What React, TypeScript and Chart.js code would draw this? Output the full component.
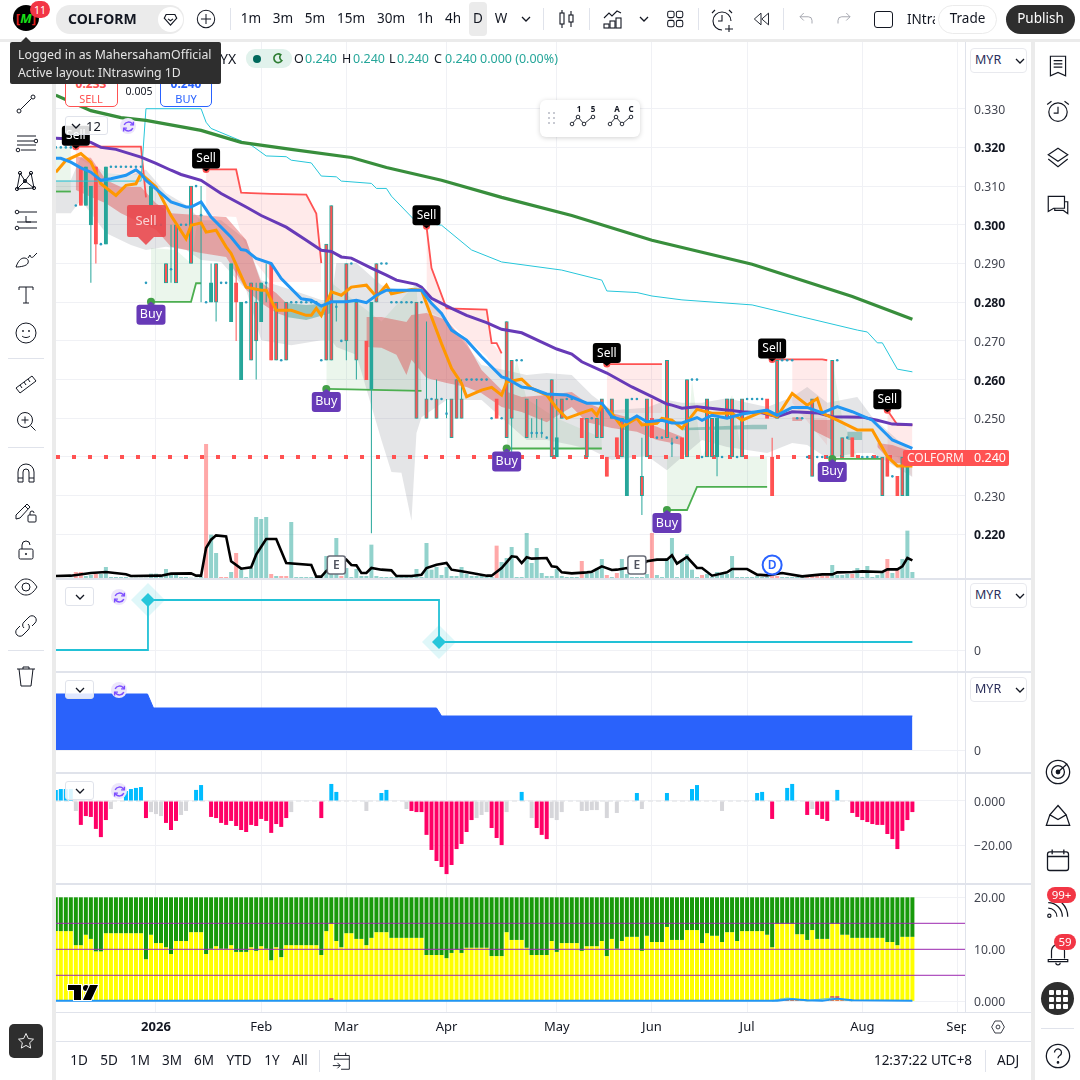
import React, { useEffect, useRef } from "react";
import { Chart, registerables } from "chart.js";
Chart.register(...registerables);

const FONT = '"Noto Sans", sans-serif';
const GRID = "#f0f1f5";
const TEAL = "#26a69a";
const RED = "#ff5252";

// ---- time axis
const monthTickBars = [20, 41, 58, 78, 100, 119, 138, 161, 180];
const monthTickLabels = ["2026", "Feb", "Mar", "Apr", "May", "Jun", "Jul", "Aug", "Sep"];

// ---- candles (MYR)
const bodyTop = [
  .32,.32,.32,.32,.305,.315,.315,.31,.315,.295,
  .315,.315,.315,.315,.315,.315,.315,.315,.285,.31,
  .3,.3,.29,.2885,.3,.3,.3,.31,.31,.3025,
  .28,.285,.29,.285,.285,.29,.285,.28,.28,.285,
  .28,.285,.285,.29,.28,.265,.28,.28,.28,.28,
  .28,.28,.28,.265,.295,.305,.2788,.27,.29,.29,
  .28,null,.27,.28,.29,.29,.29,.28,.28,.28,
  .28,.28,.28,.28,.255,.255,.255,.255,.2512,.255,
  .26,.255,.26,.26,.26,.26,.26,.25,.255,.25,
  .275,.265,.265,.265,.255,.2462,.2462,.2462,.245,.26,
  .245,.255,.255,.255,null,.25,.25,.25,.25,.255,
  .24,.255,.245,.25,.255,.255,.255,.235,.255,.25,
  .245,.245,.265,.2435,.245,.245,.26,.26,.26,.24,
  .255,.25,.25,.24,.255,.255,.24,.255,.255,.255,
  .255,.255,.255,.24,.265,.265,.265,.265,.25,.25,
  .24,.255,.24,.24,.24,.265,.265,.245,.245,.245,
  null,.24,.24,.24,.24,.24,.24,.235,.235,.24,.24,.24,
];
const bodyBottom = [
  .32,.32,.32,.32,.305,.305,.305,.3,.295,.295,
  .295,.315,.315,.315,.315,.315,.315,.315,.285,.305,
  .3,.3,.285,.2885,.285,.3,.3,.29,.31,.3025,
  .28,.28,.28,.285,.285,.275,.28,.26,.28,.265,
  .27,.275,.285,.265,.265,.265,.265,.28,.28,.28,
  .28,.28,.28,.265,.265,.265,.2788,.27,.27,.29,
  .265,null,.26,.2575,.28,.29,.29,.28,.28,.28,
  .28,.28,.25,.28,.25,.255,.25,.255,.2512,.245,
  .25,.25,.26,.26,.26,.26,.26,.25,.25,.25,
  .245,.25,.265,.265,.245,.2462,.2462,.2462,.245,.24,
  .24,.25,.255,.255,null,.245,.24,.25,.245,.245,
  .235,.25,.24,.24,.23,.255,.255,.23,.24,.245,
  .245,.245,.245,.2435,.245,.24,.24,.26,.26,.24,
  .24,.24,.24,.24,.25,.24,.24,.24,.255,.255,
  .255,.255,.25,.23,.25,.265,.265,.265,.25,.25,
  .24,.235,.24,.24,.24,.24,.265,.24,.245,.24,
  null,.24,.24,.24,.24,.23,.235,.235,.23,.23,.23,.24,
];
const wickHighBars = [23,29,31,36,40,42,56,74,76,78,81,95,96,97,100,117,119,123,143];
const wickHighVals = [.3,.31,.29,.29,.285,.29,.28,.275,.26,.255,.26,.25,.255,.25,.255,.245,.255,.245,.245];
const wickLowBars = [7,8,23,29,31,32,36,40,42,56,58,60,63,78,91,95,96,97,117,123,132];
const wickLowVals = [.285,.29,.285,.28,.28,.275,.27,.26,.28,.275,.265,.26,.2203,.25,.24,.245,.245,.245,.225,.24,.235];
const redBodies = [5,8,36,43,62,88,105,110,112,119,125,142,143,159,166,168];
const mixedBodies = [22,24,27,32,39,40,44,46,54,55,58,60,64,72,74,76,79,80,81,90,91,94,99,101,106,108,109,111,113,117,118,122,126,130,131,134,135,137,144,151,155,157,165,169];

// ---- volume
const volumes = [
  0,0,0,1,18,18,6,9,12,12,
  33,3,3,3,3,1,1,1,1,13,
  13,5,27,12,10,3,3,1,1,3,
  402,130,75,3,3,18,75,25,3,30,
  183,177,183,12,6,6,6,168,3,3,
  3,3,3,3,66,18,120,6,30,3,
  27,6,6,100,6,3,3,3,3,3,
  3,3,27,3,105,25,33,9,33,6,
  6,33,12,6,6,6,3,3,97,48,
  60,93,3,3,135,45,90,15,6,6,
  27,6,3,3,3,51,12,15,30,57,
  9,3,15,57,12,3,3,3,12,135,
  9,3,60,120,3,55,72,25,3,9,
  12,3,18,12,12,66,3,3,3,3,
  6,3,3,6,6,3,3,3,3,3,
  3,6,6,6,6,39,9,9,12,12,
  30,3,36,3,9,15,57,15,24,57,142,18,
];
const volumeRedBars = [4,5,8,30,33,34,36,43,45,46,57,88,105,110,112,119,129,143,144,150,151,152,153,154,159,166,168];
const volMaBars = [0,3,7,10,14,15,21,23,27,28,29,30,31,32,34,35,37,39,40,42,44,46,51,52,53,54,58,59,60,61,62,63,65,67,68,71,73,74,76,78,79,81,83,86,87,89,91,92,93,94,95,98,99,100,101,103,106,107,109,111,112,114,115,118,120,122,123,124,126,128,129,131,134,135,138,140,142,145,149,153,155,156,159,161,165,166,168,169,170,171];
const volMaVals = [6,7,15,18,11,6,7,13,14,7,7,90,115,128,125,50,28,32,70,117,117,45,39,4,4,21,55,39,38,15,15,30,25,23,6,6,10,30,40,45,25,20,15,7,7,30,65,63,45,62,58,60,35,33,17,14,17,19,35,24,25,30,20,50,55,55,68,43,63,30,30,7,17,27,27,10,8,15,5,11,11,17,18,20,18,26,26,35,60,53];

// ---- moving averages
const purpleBars = [0,4,7,9,12,17,20,23,25,29,33,38,41,46,50,53,55,57,59,63,66,68,72,73,75,79,82,86,89,93,97,100,103,105,110,115,119,122,123,125,128,132,137,141,144,147,152,155,161,164,167,171];
const purpleVals = [.3224,.3221,.3213,.32,.3195,.3175,.3159,.3141,.313,.3115,.3081,.3046,.3024,.2994,.296,.2934,.2931,.2917,.2914,.2888,.287,.2857,.2846,.2839,.281,.2784,.2766,.2747,.273,.2721,.2697,.2679,.2666,.2646,.2617,.2581,.2556,.2537,.2534,.2526,.253,.2524,.2517,.2514,.2504,.2517,.2514,.2504,.2503,.2495,.2485,.2483];
const blueBars = [0,1,3,5,7,9,11,14,16,17,18,20,23,26,27,29,31,35,37,38,40,43,45,49,51,53,55,58,60,62,64,66,69,73,75,77,79,82,85,89,90,93,95,98,102,106,109,111,114,116,118,121,123,125,128,129,131,134,137,142,144,147,150,153,156,159,163,167,171];
const blueVals = [.3172,.3172,.3162,.3147,.3136,.3115,.3119,.3128,.3142,.3132,.3115,.3093,.3059,.3046,.3046,.3059,.302,.2968,.2936,.2934,.2913,.29,.2861,.2809,.2805,.279,.2801,.2801,.2805,.2799,.2818,.2831,.2831,.2831,.2797,.2771,.2728,.2702,.2659,.2607,.2603,.2581,.2577,.2563,.256,.2539,.2539,.2504,.2491,.2506,.2491,.2495,.2488,.2488,.2502,.2495,.2508,.25,.2511,.2521,.2508,.2528,.2528,.2514,.253,.2517,.2495,.2444,.2422];
const orangeBars = [0,2,5,7,9,12,14,16,17,20,23,26,27,29,30,32,34,35,38,41,42,44,47,50,51,52,53,55,57,59,62,64,66,67,71,73,75,77,79,81,82,85,87,89,90,93,95,98,100,102,105,107,108,109,111,113,116,117,120,121,123,125,128,131,135,137,141,144,147,150,152,153,156,160,163,166,168,171];
const orangeVals = [.3136,.3166,.3184,.3162,.3106,.3076,.3102,.3106,.3132,.3098,.3024,.2964,.2999,.3005,.2981,.2986,.2943,.2926,.2839,.2831,.2831,.2779,.2779,.2766,.2766,.2784,.2766,.2827,.2818,.2839,.2844,.2814,.2844,.2822,.2833,.2831,.2762,.2693,.2629,.259,.2556,.2573,.258,.256,.2594,.2601,.2577,.256,.2526,.25,.2514,.2523,.2508,.2534,.2513,.2478,.25,.2483,.2487,.25,.2495,.2474,.2523,.2513,.2513,.2495,.2517,.2504,.2564,.2534,.2551,.2513,.2495,.247,.247,.2401,.2377,.2377];
const greenMaBars = [0,7,13,18,29,37,47,59,66,77,89,103,119,139,159,171];
const greenMaVals = [.3335,.3295,.3277,.327,.3244,.3213,.3195,.3174,.3148,.3115,.3071,.3024,.296,.2898,.2815,.2756];
const cyanBars = [0,17,18,29,30,31,39,42,46,47,51,53,56,57,63,64,66,67,72,77,83,89,101,109,110,116,119,125,139,149,160,162,164,165,168,171];
const cyanVals = [.3113,.3113,.33,.33,.3265,.3249,.3206,.3178,.3176,.3167,.316,.3126,.3124,.3113,.3107,.3094,.3094,.3074,.3007,.2999,.2935,.2904,.2883,.2857,.2829,.2825,.2816,.2806,.2793,.2762,.2728,.2723,.2695,.2695,.2627,.262];

// ---- resistance segments + pale fill
const resA = { bars: [4,17,18], vals: [.3202,.3202,.3071] };
const resB = { bars: [30,36,37,39,43,50,52,53], vals: [.3143,.3143,.3083,.3082,.308,.3078,.3029,.2901] };
const resC = { bars: [74,75,78,86,87,88,89], vals: [.2996,.2888,.2784,.2781,.2694,.2694,.2668] };
const resD = { bars: [110,121], vals: [.264,.264] };
const resE = { bars: [143,153,154], vals: [.2652,.2652,.265] };
const resF = { bars: [166,168,171], vals: [.2521,.2483,.2483] };
const pinkBands = [
  { bars: [4,10,17], top: [.3202,.3202,.3202], bot: [.3175,.3134,.3129] },
  { bars: [30,36,37,39,43,50,52,53], top: [.3143,.3143,.3083,.3082,.308,.3078,.3029,.2901], bot: [.3025,.302,.2975,.2917,.2852,.2852,.2852,.2852] },
  { bars: [74,75,78,86,87,89], top: [.2996,.2888,.2784,.2781,.2694,.2668], bot: [.2772,.2772,.2754,.266,.264,.2612] },
  { bars: [110,121], top: [.264,.264], bot: [.2514,.2514] },
  { bars: [147,154], top: [.2652,.265], bot: [.254,.243] },
  { bars: [166,168,171], top: [.2521,.2483,.2483], bot: [.241,.24,.2348] },
];

// ---- support segments + pale fill
const supports = [
  { bars: [0,3], vals: [.3086,.3086] },
  { bars: [19,27,28,29], vals: [.2801,.2801,.2849,.2849] },
  { bars: [54,73], vals: [.2576,.2571] },
  { bars: [90,109], vals: [.2422,.2422] },
  { bars: [122,126,128,142], vals: [.2263,.2263,.2323,.2323] },
  { bars: [155,165], vals: [.2395,.2395] },
];
const greenBands = [
  { bars: [0,3], top: [.32,.32], bot: [.3086,.3086] },
  { bars: [19,24,27,28,29], top: [.294,.2935,.29,.2987,.3051], bot: [.2801,.2801,.2801,.2849,.2849] },
  { bars: [54,55,65,72,73], top: [.27,.285,.275,.285,.2571], bot: [.2576,.2576,.2574,.2571,.2571] },
  { bars: [90,92,94,100,109], top: [.253,.265,.255,.25,.245], bot: [.2422,.2422,.2422,.2422,.2422] },
  { bars: [122,126,127,128,129,135,137,142], top: [.24,.24,.26,.25,.24,.256,.24,.24], bot: [.2263,.2263,.2293,.2323,.2323,.2323,.2323,.2323] },
  { bars: [155,157,160,165], top: [.265,.25,.24,.24], bot: [.2395,.2395,.2395,.2395] },
];

// ---- clouds
const grayBars = [0,3,5,10,15,18,22,26,29,33,38,41,47,53,55,56,60,65,67,69,71,72,73,78,85,94,98,103,107,111,118,122,125,129,134,142,147,150,154,160,163,171];
const grayTop = [.3116,.3116,.3175,.3134,.3129,.3142,.3082,.3051,.3012,.3012,.2961,.2857,.2832,.2806,.2806,.2901,.2901,.2844,.2837,.2832,.2832,.2844,.2832,.2754,.2638,.2612,.2617,.2612,.256,.2521,.2527,.2547,.254,.254,.2552,.2529,.2555,.2581,.254,.2555,.2503,.241];
const grayBottom = [.303,.303,.3064,.2979,.2948,.2935,.2943,.2935,.2909,.2904,.2832,.2702,.2689,.2702,.2702,.2684,.2664,.2444,.2361,.2359,.2235,.2462,.2503,.2547,.2547,.2444,.2444,.2431,.2418,.2392,.2403,.2366,.24,.2444,.2426,.241,.2436,.2431,.2397,.241,.241,.2348];
const redCloudBands = [
  { bars: [4,7,10,13,17,20,23,29,34,38,41,44,46], top: [.3175,.3173,.3116,.3098,.3098,.3056,.303,.3025,.302,.2961,.285,.2824,.2798], bot: [.309,.3072,.3056,.303,.3005,.2987,.2943,.2927,.2917,.2832,.2798,.2772,.2764] },
  { bars: [62,65,68,70,71,74,78,82,85,89,93,98,103,106,111,116,120,125], top: [.2762,.2762,.2754,.2749,.2767,.2772,.2754,.2695,.2625,.2573,.2555,.256,.2568,.254,.2514,.2496,.2478,.2452], bot: [.2684,.2682,.2664,.2612,.2651,.2604,.2591,.2581,.2565,.2529,.2516,.249,.2529,.249,.2475,.2465,.2444,.2431] },
  { bars: [147,149], top: [.2503,.2503], bot: [.2493,.2493] },
  { bars: [151,155], top: [.2496,.2496], bot: [.247,.2444] },
  { bars: [164,167,171], top: [.2436,.2431,.2413], bot: [.2426,.2384,.2384] },
];
const tealCloudBands = [
  { bars: [46,50,55], top: [.2798,.2793,.2798], bot: [.2762,.2754,.2772] },
  { bars: [125,139,142], top: [.2475,.2483,.2483], bot: [.2469,.2472,.2472] },
  { bars: [158,161], top: [.2465,.2465], bot: [.2444,.2444] },
];

// ---- signals
const lastPrice = 0.24;
const sellBars = [4,30,74,110,143,166];
const sellPrices = [.3202,.3143,.2996,.264,.2652,.2521];
const buyBars = [19,54,90,122,155];
const buyPrices = [.2801,.2576,.2422,.2263,.2395];
const bigSellBar = 18;
const bigSellPrice = .2948;
const eventBars = [56,116,143];
const eventLabels = ["E","E","D"];

// ---- pane 2: step line
const stepBars = [0,18.4,76.5,171];
const stepVals = [0,50,8,8];
// ---- pane 3: blue area
const areaBars = [0,18.3,19.5,76,77,171];
const areaVals = [56,56,42,42,34,34];
// ---- pane 4: histogram
const histogram = [
  5,5.4,5.4,5.4,-4.5,-10.8,-6.8,-7.2,-12.6,-16.3,
  -8.6,-3.6,0,0,4.5,5.4,5.9,6.3,-7.7,-5,
  -5.9,-6.8,-9.9,-13.1,-9,-6.3,-4.5,0,5,7.2,
  0,-7.2,-7.7,-9.9,-10.8,-9,-11.3,-13.1,-14,-10.8,
  -11.3,-8.1,-9,-14.4,-10.4,-11.7,-7.7,-5,0,0,
  0,0,0,-7.7,0,7.7,4.1,0,0,0,
  0,0,-4.5,0,0,3.6,5,0,0,0,
  -3.6,-4.5,-5,-5,-15.3,-22.1,-27.1,-29.8,-33,-28.9,
  -21.7,-19.4,-14,-8.6,-7.7,-6.3,-5,-12.2,-16.7,-19.9,
  -5,0,0,4.1,0,-7.7,-12.2,-15.3,-17.2,-7.7,
  -8.6,-5,0,0,0,-4.5,-4.5,-4.1,-4.1,0,
  -7.7,0,-5.4,0,0,0,3.6,-3.6,0,0,
  0,0,3.6,0,0,0,0,5.4,7.2,0,
  0,0,0,-4.5,0,0,0,0,0,0,
  3.6,4.1,0,-8.1,0,0,5.9,7.7,0,0,
  -6.3,-3.6,-6.3,-8.1,-9,0,5,0,0,-5.4,
  -7.2,-8.6,-9.5,-10.4,-10.8,-10.8,-14.9,-17.2,-21.7,-13.5,-8.6,-5,
];
const histogramGrayBars = [4,11,19,20,21,25,26,47,62,70,84,85,86,90,95,99,100,101,105,106,107,108,110,112,117,133,151];
// ---- pane 5: stacked columns
const yellowVals = [
  13.5,13.5,13.5,13.5,10.8,10.8,12.8,12,9.6,9.6,
  13.1,13.1,13.1,13.1,13.1,13.1,13.1,13.1,8.1,12.8,
  11.2,11.2,10.4,9.1,11.6,11.6,11.6,13.3,13.3,13.3,
  9.1,10.1,10.6,10.1,10.1,10.8,9.5,9.5,9.5,10.4,
  9.7,10.6,10.1,7.9,10.4,8.5,10.8,10.8,10.8,10.8,
  10.8,10.8,10.8,8.9,13.5,14.9,11.6,10.4,13.1,13.1,
  12,12,10.8,12.2,13.3,13.3,13.3,12.2,12.2,12.2,
  12.2,12.2,12.2,12.2,8.9,8.9,8.9,8.9,8.3,9.3,
  9.9,9.3,10.3,10.3,10.3,10.3,10.3,8.7,8.7,8.7,
  13.3,11.8,11.8,11.8,10.3,8.9,8.9,8.9,8.9,11.6,
  9.5,11.2,11.2,11.2,11.2,9.7,10.6,10.6,10.6,11.6,
  8.7,12,10.1,11.6,12.4,12.4,12.4,9.7,12.6,11.4,
  11.4,11.4,14.3,11.8,11.8,11.8,13.7,13.7,13.7,11.2,
  13.1,12.6,12.6,11.4,13.3,13.3,11.6,13.5,13.5,13.5,
  13.5,13.5,12.8,10.4,14.9,14.9,14.9,14.9,12.9,12.9,
  11.8,13.7,12,12,12,14.9,14.9,12.8,12.8,12.2,
  12.2,12.2,12.2,12.2,12.2,12.2,11.4,11.4,10.8,12.4,12.4,12.4,
];
const greenCap = 20;
const stackLevels = [15, 10, 5];
const smallRedBars = [55,145,146,147,148,149,150,151,152,153,154,155,156,157,158,159,160,161,162,163,164,165,171];
const smallRedVals = [.6,.5,.5,.4,.3,.3,.2,.2,.2,.2,.2,1,1,.3,.2,.3,.2,.2,.2,.2,.2,.2,.1];
const blueFlatBars = [0,144,147,150,153,156,159,171];
const blueFlatVals = [.1,.1,.4,.2,.1,.5,.2,.1];
const tealBumpBars = [143,146,150,155,159];
const tealBumpVals = [.1,.6,.1,.6,.1];

// ---- axes ticks
const priceTicks = [.33,.32,.31,.3,.29,.28,.27,.26,.25,.24,.23,.22];
const boldPriceTicks = [.32,.3,.28,.26,.22];

const X_MIN = 0.04;
const X_MAX = 181.7;
const CANVAS_W = 976;
const barList = bodyTop.map((_, i) => i);

const pts = (bars: number[], vals: number[]) => bars.map((x, k) => ({ x, y: vals[k] }));
const lineDs = (bars: number[], vals: number[], color: string, width: number, extra: any = {}) => ({
  type: "line", data: pts(bars, vals), borderColor: color, borderWidth: width, pointRadius: 0, tension: 0, fill: false, spanGaps: false, ...extra,
});
const bandDs = (bars: number[], top: number[], bot: number[], color: string) => [
  { type: "line", data: pts(bars, top), borderWidth: 0, pointRadius: 0, tension: 0, backgroundColor: color, fill: "+1" },
  { type: "line", data: pts(bars, bot), borderWidth: 0, pointRadius: 0, tension: 0, fill: false },
];
const ordered = (list: any[]) => list.map((d, k) => ({ ...d, order: list.length - k }));

const xAxis = (labels = false) => ({
  type: "linear", min: X_MIN, max: X_MAX, offset: false,
  afterBuildTicks: (a: any) => { a.ticks = monthTickBars.map((value) => ({ value })); },
  afterFit: (s: any) => { s.height = labels ? 29 : 0; s.paddingLeft = 0; s.paddingRight = 0; },
  grid: { color: GRID, drawTicks: false, offset: false },
  border: { display: false },
  ticks: {
    display: labels, autoSkip: false, maxRotation: 0, minRotation: 0, padding: 7, color: "#131722",
    callback: (v: number) => monthTickLabels[monthTickBars.indexOf(v)] ?? "",
    font: (c: any) => ({ family: FONT, size: 13, weight: c.tick && c.tick.value === 20 ? "700" : "400" }),
  },
});
const yAxis = (min: number, max: number, ticks: number[], format: (v: number) => string, boldTicks: number[] = []) => ({
  position: "right", min, max,
  afterBuildTicks: (a: any) => { a.ticks = ticks.map((value) => ({ value })); },
  afterFit: (s: any) => { s.width = 66; s.paddingTop = 0; s.paddingBottom = 0; },
  grid: { color: GRID, drawTicks: false },
  border: { display: false },
  ticks: {
    padding: 8, labelOffset: 1.5, autoSkip: false, callback: (v: number) => format(v),
    color: (c: any) => (c.tick && boldTicks.includes(c.tick.value) ? "#131722" : "#434651"),
    font: (c: any) => ({ family: FONT, size: 12.2, weight: c.tick && boldTicks.includes(c.tick.value) ? "700" : "400" }),
  },
});
const baseOptions = (scales: any) => ({
  responsive: false, animation: false, events: [], maintainAspectRatio: false,
  layout: { padding: 0, autoPadding: false },
  plugins: { legend: { display: false }, tooltip: { enabled: false } },
  scales,
});

const roundRect = (ctx: any, x: number, y: number, w: number, h: number, r: number) => {
  ctx.beginPath();
  ctx.roundRect(x, y, w, h, r);
};

const signalPlugin = {
  id: "signals",
  afterDatasetsDraw(chart: any) {
    const { ctx, scales } = chart;
    const X = scales.x, Y = scales.y, V = scales.yv;
    ctx.save();
    ctx.textAlign = "center";
    ctx.textBaseline = "middle";
    {
      const px = X.getPixelForValue(bigSellBar), py = Y.getPixelForValue(bigSellPrice);
      ctx.fillStyle = "rgba(235,70,75,0.88)";
      roundRect(ctx, px - 19, py - 40, 39, 32, 2);
      ctx.fill();
      ctx.beginPath();
      ctx.moveTo(px - 8, py - 8); ctx.lineTo(px, py); ctx.lineTo(px + 8, py - 8); ctx.fill();
      ctx.fillStyle = "rgba(255,255,255,0.75)";
      ctx.font = `13px ${FONT}`;
      ctx.fillText("Sell", px, py - 24);
    }
    sellBars.forEach((b, k) => {
      const px = X.getPixelForValue(b), py = Y.getPixelForValue(sellPrices[k]);
      ctx.fillStyle = RED;
      ctx.beginPath(); ctx.arc(px, py, 3.5, 0, Math.PI * 2); ctx.fill();
      ctx.fillStyle = "#000";
      roundRect(ctx, px - 14, py - 21, 28, 20, 3); ctx.fill();
      ctx.beginPath(); ctx.moveTo(px - 4, py - 1); ctx.lineTo(px, py + 2); ctx.lineTo(px + 4, py - 1); ctx.fill();
      ctx.fillStyle = "#fff";
      ctx.font = `12px ${FONT}`;
      ctx.fillText("Sell", px, py - 11);
    });
    buyBars.forEach((b, k) => {
      const px = X.getPixelForValue(b), py = Y.getPixelForValue(buyPrices[k]);
      ctx.fillStyle = "#43a047";
      ctx.beginPath(); ctx.arc(px, py, 4, 0, Math.PI * 2); ctx.fill();
      ctx.fillStyle = "#673ab7";
      roundRect(ctx, px - 14.5, py + 3, 29, 20, 3); ctx.fill();
      ctx.beginPath(); ctx.moveTo(px - 4, py + 3); ctx.lineTo(px, py); ctx.lineTo(px + 4, py + 3); ctx.fill();
      ctx.fillStyle = "#fff";
      ctx.font = `12.5px ${FONT}`;
      ctx.fillText("Buy", px, py + 13);
    });
    eventBars.forEach((b, k) => {
      const px = X.getPixelForValue(b), py = V.getPixelForValue(39);
      if (eventLabels[k] === "D") {
        ctx.fillStyle = "#fff"; ctx.strokeStyle = "#2962ff"; ctx.lineWidth = 2;
        ctx.beginPath(); ctx.arc(px, py, 9.5, 0, Math.PI * 2); ctx.fill(); ctx.stroke();
        ctx.fillStyle = "#2962ff";
      } else {
        ctx.fillStyle = "#fff"; ctx.strokeStyle = "#6a6d78"; ctx.lineWidth = 1.5;
        roundRect(ctx, px - 9, py - 9, 18, 18, 2.5); ctx.fill(); ctx.stroke();
        ctx.fillStyle = "#50535e";
      }
      ctx.font = `600 12px ${FONT}`;
      ctx.fillText(eventLabels[k], px, py + 0.5);
    });
    ctx.restore();
  },
};

const mainConfig = () => {
  const wickHi = barList.map((i) => { const k = wickHighBars.indexOf(i); return k >= 0 ? wickHighVals[k] : bodyTop[i]; });
  const wickLo = barList.map((i) => { const k = wickLowBars.indexOf(i); return k >= 0 ? wickLowVals[k] : bodyBottom[i]; });
  const solid = barList.filter((i) => bodyTop[i] !== null && bodyTop[i] !== bodyBottom[i]);
  const thin = barList.filter((i) => bodyTop[i] !== null && wickHi[i] !== wickLo[i]);
  const dots = barList.filter((i) => bodyTop[i] !== null && bodyTop[i] === bodyBottom[i]);
  const datasets: any[] = [];
  pinkBands.forEach((b) => datasets.push(...bandDs(b.bars, b.top, b.bot, "rgba(255,82,82,0.12)")));
  greenBands.forEach((b) => datasets.push(...bandDs(b.bars, b.top, b.bot, "rgba(76,175,80,0.11)")));
  datasets.push(...bandDs(grayBars, grayTop, grayBottom, "rgba(120,123,134,0.2)"));
  redCloudBands.forEach((b) => datasets.push(...bandDs(b.bars, b.top, b.bot, "rgba(225,70,70,0.42)")));
  tealCloudBands.forEach((b) => datasets.push(...bandDs(b.bars, b.top, b.bot, "rgba(30,140,125,0.38)")));
  datasets.push({
    type: "bar", yAxisID: "yv", grouped: false, barThickness: 4, inflateAmount: 0, data: volumes.map((y, x) => ({ x, y })),
    backgroundColor: volumes.map((_, i) => (volumeRedBars.includes(i) ? "rgba(255,82,82,0.5)" : "rgba(38,166,154,0.5)")),
  });
  datasets.push(lineDs([X_MIN, 171], [lastPrice, lastPrice], RED, 4, { borderDash: [4, 12] }));
  [resA, resB, resC, resD, resE, resF].forEach((s) => datasets.push(lineDs(s.bars, s.vals, RED, 1.8)));
  supports.forEach((s) => datasets.push(lineDs(s.bars, s.vals, "#4caf50", 1.8)));
  datasets.push({
    type: "bar", grouped: false, barThickness: 1, data: thin.map((x) => ({ x, y: [wickLo[x], wickHi[x]] })),
    backgroundColor: thin.map((i) => (redBodies.includes(i) ? RED : TEAL)), inflateAmount: 0,
  });
  datasets.push({
    type: "bar", grouped: false, barThickness: 3.4, data: solid.map((x) => ({ x, y: [bodyBottom[x], bodyTop[x]] })),
    backgroundColor: solid.map((i) => (redBodies.includes(i) || mixedBodies.includes(i) ? RED : TEAL)),
    borderColor: solid.map((i) => (redBodies.includes(i) ? RED : TEAL)),
    borderWidth: 1, borderSkipped: false,
  });
  datasets.push({
    type: "scatter", data: dots.map((x) => ({ x, y: bodyTop[x] })), pointRadius: 1.3, pointBackgroundColor: "#2a9dbe", pointBorderWidth: 0,
  });
  datasets.push(lineDs(cyanBars, cyanVals, "#26c6da", 1));
  datasets.push(lineDs(greenMaBars, greenMaVals, "#388e3c", 3.2));
  datasets.push(lineDs(purpleBars, purpleVals, "#673ab7", 3));
  datasets.push(lineDs(orangeBars, orangeVals, "#ff9800", 3));
  datasets.push(lineDs(blueBars, blueVals, "#2196f3", 3));
  datasets.push(lineDs(volMaBars, volMaVals, "#000", 2.6, { yAxisID: "yv" }));
  return {
    type: "bar",
    data: { datasets: ordered(datasets) },
    options: baseOptions({
      x: xAxis(),
      y: yAxis(0.20873, 0.34724, priceTicks, (v) => v.toFixed(3), boldPriceTicks),
      yv: { display: false, min: 0, max: 1608 },
    }),
    plugins: [signalPlugin],
  };
};

const stepConfig = () => ({
  type: "line",
  data: {
    datasets: ordered([
      { type: "line", data: pts(stepBars, stepVals), stepped: "before", borderColor: "#22c1d6", borderWidth: 1.8, pointRadius: 0 },
      { type: "scatter", data: pts([stepBars[1], stepBars[2]], [stepVals[1], stepVals[2]]), pointStyle: "rectRot", pointRadius: 17, pointBackgroundColor: "rgba(38,198,218,0.15)", pointBorderWidth: 0 },
      { type: "scatter", data: pts([stepBars[1], stepBars[2]], [stepVals[1], stepVals[2]]), pointStyle: "rectRot", pointRadius: 7, pointBackgroundColor: "#26c6da", pointBorderWidth: 0 },
    ]),
  },
  options: baseOptions({ x: xAxis(), y: yAxis(-21, 71, [0], () => "0") }),
});

const areaConfig = () => ({
  type: "line",
  data: {
    datasets: [{ data: pts(areaBars, areaVals), borderColor: "#2a62fb", borderWidth: 1, backgroundColor: "#2a62fb", fill: { target: { value: 0 } }, pointRadius: 0, tension: 0 }],
  },
  options: baseOptions({ x: xAxis(), y: yAxis(-22, 78, [0], () => "0") }),
});

const histogramConfig = () => ({
  type: "bar",
  data: {
    datasets: ordered([
      { type: "line", data: pts([X_MIN, 171], [0, 0]), borderColor: "#e6e7ea", borderWidth: 1.5, borderDash: [5, 3], pointRadius: 0 },
      {
        type: "bar", grouped: false, barThickness: 4, inflateAmount: 0, data: histogram.map((y, x) => ({ x, y })),
        backgroundColor: histogram.map((v, i) => (v === 0 ? "rgba(0,0,0,0)" : histogramGrayBars.includes(i) ? "#d6d6da" : v > 0 ? "#00bcff" : "#ff0066")),
      },
    ]),
  },
  options: baseOptions({
    x: xAxis(),
    y: yAxis(-37.02, 12.64, [0, -20], (v) => (v === 0 ? "0.000" : "\u221220.00")),
  }),
});

const stackConfig = () => ({
  type: "bar",
  data: {
    datasets: ordered([
      { type: "bar", grouped: false, barThickness: 4, inflateAmount: 0, data: yellowVals.map((y, x) => ({ x, y })), backgroundColor: "#ffff00" },
      { type: "bar", grouped: false, barThickness: 4, inflateAmount: 0, data: yellowVals.map((y, x) => ({ x, y: [y, greenCap] })), backgroundColor: "#189a0a" },
      { type: "bar", grouped: false, barThickness: 4, inflateAmount: 0, data: pts(smallRedBars, smallRedVals), backgroundColor: "#e25b5b" },
      lineDs(tealBumpBars, tealBumpVals, "#7fc8b8", 1.5),
      lineDs(blueFlatBars, blueFlatVals, "#2196f3", 1.8),
      ...stackLevels.map((v) => lineDs([X_MIN, X_MAX], [v, v], "#9c27b0", 1)),
    ]),
  },
  options: baseOptions({
    x: xAxis(true),
    y: yAxis(-2.06, 22.56, [0, 10, 20], (v) => (v === 0 ? "0.000" : v.toFixed(2))),
  }),
});

function Pane({ top, height, config }: { top: number; height: number; config: () => any }) {
  const ref = useRef<HTMLCanvasElement>(null);
  useEffect(() => {
    const chart = new Chart(ref.current as any, config());
    return () => chart.destroy();
  }, []);
  return <canvas ref={ref} width={CANVAS_W} height={height} style={{ position: "absolute", left: 56, top, width: CANVAS_W, height }} />;
}

const Box = ({ l, t, w, h, c, r, style, children }: any) => (
  <div style={{ position: "absolute", left: l, top: t, width: w, height: h, background: c, borderRadius: r, ...style }}>{children}</div>
);
const Txt = ({ x, y, s = 14, c = "#131722", w = 400, center, children, style }: any) => (
  <div style={{
    position: "absolute", left: x, top: y, fontSize: s, color: c, fontWeight: w, lineHeight: 1, whiteSpace: "nowrap",
    transform: center ? "translate(-50%,-50%)" : "translateY(-50%)", ...style,
  }}>{children}</div>
);
const Icon = ({ x, y, size = 24, children, color = "#131722", sw = 1.1 }: any) => (
  <svg viewBox="0 0 24 24" width={size} height={size} fill="none" stroke={color} strokeWidth={sw}
    style={{ position: "absolute", left: x - size / 2, top: y - size / 2 }}>{children}</svg>
);

const Chevron = ({ x, y, c = "#131722" }: any) => (
  <svg width="10" height="6" viewBox="0 0 10 6" fill="none" stroke={c} strokeWidth="1.3" style={{ position: "absolute", left: x - 5, top: y - 3 }}>
    <path d="M1 1l4 4 4-4" />
  </svg>
);
const Refresh = ({ x, y }: any) => (
  <>
    <Box l={x - 8} t={y - 8} w={16} h={16} r={8} c="#ece6fb" />
    <Icon x={x} y={y} size={13} color="#7c4dff" sw={2.6}>
      <path d="M4 9a9 9 0 0 1 15-2l2 2M20 15a9 9 0 0 1-15 2l-2-2" />
      <path d="M21 3v6h-6M3 21v-6h6" />
    </Icon>
  </>
);
const PaneChevron = ({ t, wide, label }: any) => (
  <Box l={65} t={t} w={wide ? 43 : 29} h={19} r={3} style={{ background: "rgba(255,255,255,0.85)", border: "1px solid #e0e3eb", boxSizing: "border-box" }}>
    <Chevron x={wide ? 10 : 14} y={9} />
    {label ? <Txt x={20} y={9} s={13}>{label}</Txt> : null}
  </Box>
);
const Myr = ({ t }: any) => (
  <Box l={970} t={t} w={57} h={25} r={4} style={{ border: "1px solid #e8e9ee", boxSizing: "border-box", background: "#fff" }}>
    <Txt x={4} y={11} s={12.5} c="#2a2e5a">MYR</Txt>
    <Chevron x={49} y={12} />
  </Box>
);
const Sep = ({ x, y, h = 22 }: any) => <Box l={x} t={y} w={1} h={h} c="#e0e3eb" />;
const HSep = ({ x, y, w = 36 }: any) => <Box l={x} t={y} w={w} h={1} c="#e0e3eb" />;

const timeframes: [string, number][] = [["1m",251],["3m",283],["5m",315],["15m",351],["30m",391],["1h",425],["4h",453],["D",478],["W",501]];
const ranges: [string, number][] = [["1D",79],["5D",109],["1M",140],["3M",172],["6M",204],["YTD",239],["1Y",272],["All",300]];
const ohlc: [string, number, string, number][] = [["O",294,"0.240",305],["H",342,"0.240",353],["L",389,"0.240",397],["C",434,"0.240",445]];

function Chrome() {
  return (
    <>
      <Box l={0} t={39} w={1080} h={3} c="#ebebeb" />
      <Box l={52} t={39} w={4} h={1041} c="#ebebeb" />
      <Box l={1031} t={39} w={4} h={1041} c="#ebebeb" />
      <Box l={965} t={42} w={1} h={970} c="#e0e3eb" />
      {[578, 671, 772, 883].map((y) => <Box key={y} l={56} t={y} w={975} h={1.5} c="#e0e3eb" />)}
      <Box l={56} t={1012} w={975} h={1} c="#e0e3eb" />
      <Box l={966} t={1013} w={65} h={28} c="#fff" />
      <Box l={56} t={1041} w={975} h={1} c="#e0e3eb" />
      <Icon x={998} y={1027} size={18}><path d="M8 4h8l4.5 8-4.5 8H8l-4.5-8z" /><circle cx="12" cy="12" r="2.6" /></Icon>

      <Txt x={220} y={59} s={14} c="#131722">YX</Txt>
      <Box l={246} t={49} w={46} h={19} r={9} c="#e1f2ec" />
      <Box l={253} t={55} w={8} h={8} r={4} c="#00695c" />
      <Icon x={277} y={58} size={13} color="#2e7d32" sw={3}><path d="M18 5a8 8 0 1 0 2 11 7 7 0 0 1-2-11z" /></Icon>
      {ohlc.map(([a, ax, b, bx]) => (
        <React.Fragment key={a}>
          <Txt x={ax} y={59} s={12.5}>{a}</Txt>
          <Txt x={bx} y={59} s={12.5} c={TEAL}>{b}</Txt>
        </React.Fragment>
      ))}
      <Txt x={480} y={59} s={12.5} c={TEAL}>0.000 (0.00%)</Txt>

      <Box l={65} t={70} w={53} h={37} r={5} style={{ border: "1px solid #ff5252", boxSizing: "border-box", background: "#fff" }} />
      <Box l={160} t={70} w={52} h={37} r={5} style={{ border: "1px solid #2962ff", boxSizing: "border-box", background: "#fff" }} />
      <Txt x={91} y={84} s={12} c="#ff5252" w={700} center>0.233</Txt>
      <Txt x={91} y={98} s={11} c="#ff5252" center>SELL</Txt>
      <Txt x={186} y={84} s={12} c="#2962ff" w={700} center>0.240</Txt>
      <Txt x={186} y={98} s={11} c="#2962ff" center>BUY</Txt>
      <Txt x={139} y={91} s={10.5} center>0.005</Txt>

      <PaneChevron t={116} wide label="12" />
      <Refresh x={128} y={126} />
      <PaneChevron t={587} /><Refresh x={119} y={597} />
      <PaneChevron t={680} /><Refresh x={119} y={690} />
      <PaneChevron t={781} /><Refresh x={119} y={791} />

      <Box l={540} t={100} w={100} h={37} r={6} c="#fff" style={{ boxShadow: "0 1px 5px rgba(0,0,0,0.18)" }} />
      {[0, 1, 2].map((r) => [0, 1].map((q) => <Box key={`${r}${q}`} l={548 + q * 5} t={112 + r * 5} w={2} h={2} c="#c8cad2" />))}
      {[[569, ["1", "5"]], [607, ["A", "C"]]].map(([x0, labs]: any) => (
        <React.Fragment key={x0}>
          <svg width="30" height="14" viewBox="0 0 30 14" fill="none" stroke="#131722" strokeWidth="0.9" style={{ position: "absolute", left: x0, top: 113 }}>
            <path d="M3 11L9 4l6 7 7-6 4-2" />
            <circle cx="3" cy="11" r="1.8" fill="#fff" /><circle cx="9" cy="4" r="1.8" fill="#fff" /><circle cx="15" cy="11" r="1.8" fill="#fff" /><circle cx="24" cy="4" r="1.8" fill="#fff" />
          </svg>
          <Txt x={x0 + 10} y={109} s={8} w={700} center>{labs[0]}</Txt>
          <Txt x={x0 + 24} y={109} s={8} w={700} center>{labs[1]}</Txt>
        </React.Fragment>
      ))}

      <Myr t={48} /><Myr t={583} /><Myr t={677} />
      <Box l={903} t={450} w={106} h={16} r={2} c={RED} />
      <Txt x={907} y={458} s={12} c="rgba(255,255,255,0.92)">COLFORM</Txt>
      <Txt x={974} y={458} s={12.5} c="#fff">0.240</Txt>

      <svg width="34" height="20" viewBox="0 0 34 20" style={{ position: "absolute", left: 66, top: 982 }}>
        <g stroke="#fff" strokeWidth="2" paintOrder="stroke" fill="#000">
          <path d="M2 3h13v15H8V8H2z" />
          <circle cx="20" cy="6" r="3" />
          <path d="M24 3h8l-7 15h-8z" />
        </g>
      </svg>

      <Box l={13} t={5} w={26} h={26} r={13} c="#000" />
      <Txt x={26} y={18} s={13} c="#18e018" w={700} center style={{ fontStyle: "italic" }}>M</Txt>
      <Txt x={18} y={18} s={13} c="#e02020" w={700} center>[</Txt>
      <Txt x={34} y={18} s={13} c="#e02020" w={700} center>]</Txt>
      <Box l={30} t={1} w={20} h={17} r={9} c="#f23645" />
      <Txt x={40} y={9.5} s={10.5} c="#fff" center>11</Txt>
      <Box l={56} t={5} w={128} h={29} r={14} c="#ebebeb" />
      <Txt x={68} y={19} s={14} w={700}>COLFORM</Txt>
      <Box l={158} t={7} w={25} h={25} r={13} c="#fff" />
      <Icon x={170} y={19} size={15} sw={1.8}><path d="M5 4h14l3 6-10 11L2 10z" /><path d="M8 11l4 3 4-3" /></Icon>
      <Icon x={206} y={19} size={22}><circle cx="12" cy="12" r="9.5" /><path d="M12 6.5v11M6.5 12h11" /></Icon>
      <Sep x={230} y={8} />
      <Box l={469} t={2} w={18} h={34} r={4} c="#ebebeb" />
      {timeframes.map(([t, x]) => <Txt key={t} x={x} y={19} s={13.5} center>{t}</Txt>)}
      <Chevron x={526} y={19} />
      <Sep x={543} y={8} />
      <Icon x={567} y={19} size={24}>
        <rect x="5" y="6" width="4" height="11" /><path d="M7 3v3M7 17v4" />
        <rect x="14" y="8" width="4" height="7" /><path d="M16 4v4M16 15v5" />
      </Icon>
      <Sep x={589} y={8} />
      <Icon x={613} y={19} size={24}>
        <path d="M3 11l5-5 3 3 5-5 4 2" /><rect x="3" y="17" width="5" height="4" /><rect x="9" y="14" width="5" height="7" /><rect x="15" y="11" width="5" height="10" />
      </Icon>
      <Chevron x={644} y={19} />
      <Icon x={675} y={19} size={22}>
        <rect x="4" y="3.5" width="7" height="7" rx="2" /><rect x="13.5" y="3.5" width="7" height="7" rx="2" />
        <rect x="4" y="13.5" width="7" height="7" rx="2" /><rect x="13.5" y="13.5" width="7" height="7" rx="2" />
      </Icon>
      <Sep x={698} y={8} />
      <Icon x={722} y={20} size={24}>
        <path d="M21 13a9 9 0 1 0-9 9" /><path d="M12 7v6h-4M2 5l3-3M22 5l-3-3M19 17v7M15 21h8" />
      </Icon>
      <Icon x={761} y={19} size={20}><path d="M12 5l-8 7 8 7zM21 5l-8 7 8 7z" /></Icon>
      <Sep x={783} y={8} />
      <Icon x={806} y={19} size={18} color="#9598a1"><path d="M4 9h11a5 5 0 0 1 5 5v4M9 4L4 9l5 5" /></Icon>
      <Icon x={844} y={19} size={18} color="#9598a1"><path d="M20 9H9a5 5 0 0 0-5 5v4M15 4l5 5-5 5" /></Icon>
      <Box l={874} t={11} w={19} h={17} r={3} style={{ border: "1.3px solid #131722", boxSizing: "border-box" }} />
      <Box l={907} t={8} w={28} h={24} style={{ overflow: "hidden" }}>
        <Txt x={0} y={12} s={13.5}>INtraswing</Txt>
      </Box>
      <Box l={938} t={5} w={59} h={29} r={15} c="#fff" style={{ border: "1px solid #ebebeb", boxSizing: "border-box" }} />
      <Txt x={967.5} y={19} s={13.5} center>Trade</Txt>
      <Box l={1006} t={5} w={69} h={29} r={15} c="#2e2e2e" />
      <Txt x={1040.5} y={19} s={13.5} c="#fff" center>Publish</Txt>

      <div style={{ position: "absolute", left: 20, top: 37, width: 0, height: 0, borderLeft: "6px solid transparent", borderRight: "6px solid transparent", borderBottom: "6px solid #2e2e2e" }} />
      <Box l={10} t={42} w={211} h={42} r={2} c="#2e2e2e" />
      <Txt x={18} y={55} s={12.3} c="#e4e4e4">Logged in as MahersahamOfficial</Txt>
      <Txt x={18} y={73} s={12.3} c="#e4e4e4">Active layout: INtraswing 1D</Txt>

      <Icon x={26} y={104} sw={1}><circle cx="5" cy="19" r="2" /><circle cx="19" cy="5" r="2" /><path d="M6.5 17.5l11-11" /></Icon>
      <Icon x={26} y={143} sw={1}><path d="M3 5h19M3 10h17M3 14h19M7 19h15" /><circle cx="22" cy="10" r="1.8" /><circle cx="4" cy="19" r="1.8" /></Icon>
      <Icon x={26} y={181} sw={1}><path d="M6 4l-3 16L20 19 17 4 11 12 3 20M6 4l5 8 9 7" /><circle cx="6" cy="4" r="1.6" /><circle cx="17" cy="4" r="1.6" /><circle cx="11" cy="12" r="1.6" /><circle cx="3" cy="20" r="1.6" /><circle cx="20" cy="19" r="1.6" /></Icon>
      <Icon x={26} y={220} sw={1}><path d="M5 4h18M5 20h18M12 8v6h5M2 11h0" /><circle cx="3" cy="4" r="1.8" /><circle cx="3" cy="20" r="1.8" /><path d="M3 14h20" /></Icon>
      <Icon x={26} y={258} sw={1}><path d="M2 21c2-6 5-9 8-9 3 0 5 2 4 5-1 3-8 4-12 4zM14 12l2-3c0 3 3 3 4 1l3-3" /></Icon>
      <Icon x={26} y={295} sw={1}><path d="M5 7V4h14v3M12 4v16M9 20h6" /></Icon>
      <Icon x={26} y={333} sw={1}><circle cx="12" cy="12" r="10" /><circle cx="9" cy="10" r=".6" /><circle cx="15" cy="10" r=".6" /><path d="M8 15c2 2 6 2 8 0" /></Icon>
      <HSep x={8} y={358} />
      <Icon x={26} y={384} sw={1}><path d="M2 16L18 4l4 5L6 21zM6 13l2 3M10 10l2 3M14 7l2 3" /></Icon>
      <Icon x={26} y={422} sw={1}><circle cx="11" cy="10" r="7.5" /><path d="M11 6.5v7M7.5 10h7M16.5 15.5l5 5" /></Icon>
      <HSep x={8} y={447} />
      <Icon x={26} y={473} sw={1}><path d="M4 21V11a8 8 0 0 1 16 0v10h-5V11a3 3 0 0 0-6 0v10zM4 17h5M15 17h5" /></Icon>
      <Icon x={26} y={512} sw={1}><path d="M2 15L13 4l3 3L6 18l-4 1zM11 6l3 3" /><rect x="14" y="15" width="8" height="7" rx="1" /><path d="M16 15v-2a2 2 0 0 1 4 0" /></Icon>
      <Icon x={26} y={550} sw={1}><rect x="5" y="11" width="14" height="10" rx="1.5" /><path d="M8 11V7a4 4 0 0 1 8 0" /><circle cx="12" cy="16" r=".7" /></Icon>
      <Icon x={26} y={587} sw={1}><path d="M1 12c4-6 7-8 11-8s7 2 11 8c-4 6-7 8-11 8s-7-2-11-8z" /><circle cx="12" cy="12" r="4" /></Icon>
      <Icon x={26} y={626} sw={1}><path d="M10 14a4 4 0 0 1 0-6l5-5a4 4 0 0 1 6 6l-3 3M14 10a4 4 0 0 1 0 6l-5 5a4 4 0 0 1-6-6l3-3" /></Icon>
      <HSep x={8} y={650} />
      <Icon x={26} y={676} sw={1}><path d="M3 5h18M9 5V3h6v2M5 5l2 17h10l2-17" /></Icon>
      <Box l={9} t={1024} w={34} h={34} r={5} c="#2e2e2e" />
      <Icon x={26} y={1041} size={20} color="#fff"><path d="M12 3l2.8 6 6.2.8-4.6 4.3 1.2 6.4L12 17.3l-5.6 3.2 1.2-6.4L3 9.8 9.2 9z" /></Icon>

      {ranges.map(([t, x]) => <Txt key={t} x={x} y={1061} s={13.5} center>{t}</Txt>)}
      <Sep x={319} y={1050} />
      <Icon x={342} y={1061} size={22} sw={1}><path d="M4 11V6h16v15h-9M4 10h16M8 3v3M16 3v3M2 17h8M7 14l3 3-3 3" /></Icon>
      <Txt x={923} y={1061} s={13.5} center>12:37:22 UTC+8</Txt>
      <Sep x={985} y={1050} />
      <Txt x={1008} y={1061} s={13.5} center>ADJ</Txt>

      <Icon x={1058} y={66} size={26}><path d="M5 3h14v18l-7-3-7 3zM8 7h8M8 10h8M8 13h8" /></Icon>
      <Icon x={1058} y={111} size={26}><circle cx="12" cy="13" r="8.5" /><path d="M12 8v6H8M2 6l4-3M22 6l-4-3" /></Icon>
      <Icon x={1058} y={158} size={26}><path d="M12 3l9 6-9 6-9-6zM3 13l9 7 9-7" /></Icon>
      <Icon x={1058} y={205} size={26}><path d="M3 4h15v11H8l-5 3zM18 9h3v11l-4-3H9v-2" /></Icon>
      <Icon x={1058} y={772} size={28}><circle cx="12" cy="12" r="10" /><circle cx="12" cy="12" r="5.5" /><circle cx="12" cy="12" r="1.5" fill="#131722" /><path d="M12 12l8-7" /></Icon>
      <Icon x={1058} y={816} size={28}><path d="M12 3l7 8-7 4-7-4zM5 11l-3 9h20l-3-9" /></Icon>
      <Icon x={1058} y={860} size={28}><rect x="3" y="5" width="18" height="16" rx="2" /><path d="M3 9h18M7 3v4M17 3v4" /></Icon>
      <Icon x={1058} y={907} size={26}><circle cx="4" cy="20" r="1.5" /><path d="M3 13a8 8 0 0 1 8 8M3 8a13 13 0 0 1 13 13M3 3a18 18 0 0 1 18 18" /></Icon>
      <Box l={1047} t={887} w={29} h={16} r={8} c="#f23645" />
      <Txt x={1061.5} y={895} s={11.5} c="#fff" center>99+</Txt>
      <Icon x={1058} y={953} size={26}><path d="M6 17V10a6 6 0 0 1 12 0v7M3 18h18v2H3zM10 21a2 2 0 0 0 4 0" /></Icon>
      <Box l={1054} t={934} w={22} h={16} r={8} c="#f23645" />
      <Txt x={1065} y={942} s={11.5} c="#fff" center>59</Txt>
      <Box l={1041} t={982} w={33} h={33} r={17} c="#2e2e2e" />
      {[0, 1, 2].map((r) => [0, 1, 2].map((q) => <Box key={`g${r}${q}`} l={1049 + q * 7} t={990 + r * 7} w={4.5} h={4.5} r={1} c="#fff" />))}
      <HSep x={1041} y={1028} w={33} />
      <Icon x={1058} y={1056} size={28}><circle cx="12" cy="12" r="10" /><path d="M9 9a3 3 0 1 1 4.5 2.6c-1 .6-1.5 1.2-1.5 2.4" /><circle cx="12" cy="17.5" r=".6" /></Icon>
    </>
  );
}

export default function App() {
  useEffect(() => { document.body.style.margin = "0"; }, []);
  return (
    <div style={{ position: "fixed", left: 0, top: 0, width: 1080, height: 1080, overflow: "hidden", background: "#fff", fontFamily: FONT }}>
      <Pane top={42} height={536} config={mainConfig} />
      <Pane top={579} height={92} config={stepConfig} />
      <Pane top={672} height={100} config={areaConfig} />
      <Pane top={773} height={110} config={histogramConfig} />
      <Pane top={884} height={157} config={stackConfig} />
      <Chrome />
    </div>
  );
}
